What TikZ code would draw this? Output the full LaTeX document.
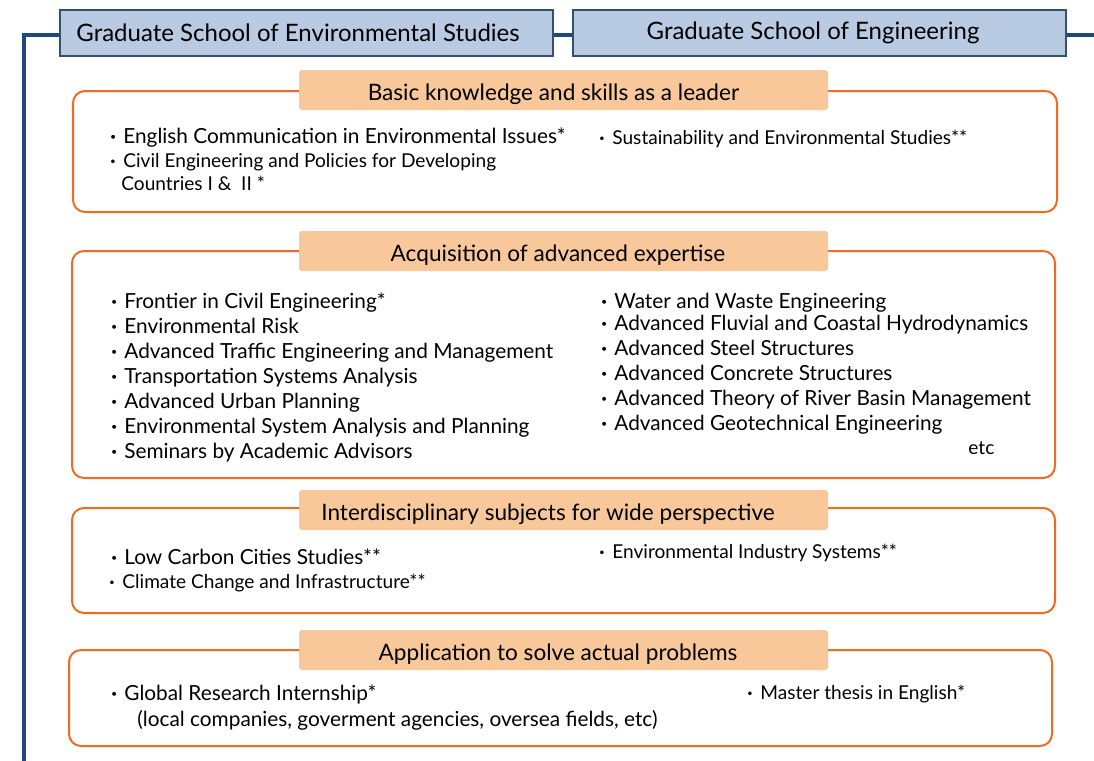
\documentclass[tikz,border=0pt]{standalone}
\usepackage{fontspec}
\setmainfont{Lato}
\usetikzlibrary{positioning}

\definecolor{hdrfill}{HTML}{B8CBE3}
\definecolor{hdrline}{HTML}{34506F}
\definecolor{railblue}{HTML}{1F487C}
\definecolor{boxorange}{HTML}{EE6B23}
\definecolor{tabfill}{HTML}{F8C89B}

\newcommand{\dotitem}{\makebox[0pt][r]{\makebox[6.5pt][l]{\textbf{·}}}}

\tikzset{
  header/.style={draw=hdrline, line width=1pt, fill=hdrfill, minimum width=246.5pt,
    minimum height=23pt, inner sep=0pt, font=\fontsize{12}{14}\selectfont},
  rail/.style={draw=railblue, line width=2pt},
  groupbox/.style={draw=boxorange, line width=1pt, rounded corners=6pt},
  tabbox/.style={fill=tabfill, rounded corners=1.5pt, minimum width=264.5pt,
    minimum height=20pt, inner sep=0pt, text height=10pt, text depth=0pt,
    font=\fontsize{11.3}{14}\selectfont},
  entry/.style={anchor=base west, inner sep=0pt, font=\fontsize{10.4}{12}\selectfont},
  smallentry/.style={entry, font=\fontsize{9.55}{12}\selectfont},
}

\begin{document}
\begin{tikzpicture}[x=0.5pt, y=-0.5pt]
  \useasboundingbox (0,0) rectangle (1094,761);

  % graduate schools
  \node[header] (envs) at (306.5,33) {Graduate School of Environmental Studies\kern8.5pt};
  \node[header] (engs) at (819,33) {Graduate School of Engineering\kern6pt};
  \coordinate (railtop) at (24,35);
  \coordinate (railend) at (24,761);
  \coordinate (railright) at (1094,35);
  \draw[rail] (envs.west |- railtop) -- (railtop) -- (railend);
  \draw[rail] (envs.east |- railtop) -- (engs.west |- railtop);
  \draw[rail] (engs.east |- railtop) -- (railright);

  % group 1
  \draw[groupbox] (73,91) rectangle (1057,212);
  \node[tabbox] (basic) at (563.5,90) {Basic knowledge and skills as a leader\kern10pt};
  \node[entry] at (123,143) {\dotitem English Communication in Environmental Issues*};
  \node[smallentry] at (123,167) {\dotitem Civil Engineering and Policies for Developing};
  \node[smallentry] at (121,190) {Countries I \&\ \ II *};
  \node[smallentry] at (612,144) {\dotitem Sustainability and Environmental Studies**};

  % group 2
  \draw[groupbox] (72,251) rectangle (1055,478);
  \node[tabbox] (expert) at (563.5,251) {Acquisition of advanced expertise\kern5.5pt};
  \foreach \y/\t in {308/{Frontier in Civil Engineering*},
                     333/{Environmental Risk},
                     358/{Advanced Traffic Engineering and Management},
                     383/{Transportation Systems Analysis},
                     408/{Advanced Urban Planning},
                     433/{Environmental System Analysis and Planning},
                     458/{Seminars by Academic Advisors}}
    \node[entry] at (124,\y) {\dotitem\t};
  \foreach \y/\t in {308/{Water and Waste Engineering},
                     330/{Advanced Fluvial and Coastal Hydrodynamics},
                     355/{Advanced Steel Structures},
                     380/{Advanced Concrete Structures},
                     405/{Advanced Theory of River Basin Management},
                     430/{Advanced Geotechnical Engineering}}
    \node[entry] at (614,\y) {\dotitem\t};
  \node[smallentry] at (968,454) {etc};

  % group 3
  \draw[groupbox] (72,508) rectangle (1055,613);
  \node[tabbox] (inter) at (563.5,510) {Interdisciplinary subjects for wide perspective\kern15.5pt};
  \node[entry] at (124,564) {\dotitem Low Carbon Cities Studies**};
  \node[smallentry] at (122,588) {\dotitem Climate Change and Infrastructure**};
  \node[smallentry] at (612,558) {\dotitem Environmental Industry Systems**};

  % group 4
  \draw[groupbox] (69,650) rectangle (1052,746);
  \node[tabbox] (apply) at (563.5,650) {Application to solve actual problems\kern5.5pt};
  \node[entry] at (124,700) {\dotitem Global Research Internship*};
  \node[entry] at (137,726) {(local companies, goverment agencies, oversea fields, etc)};
  \node[smallentry] at (760,699) {\dotitem Master thesis in English*};
\end{tikzpicture}
\end{document}
